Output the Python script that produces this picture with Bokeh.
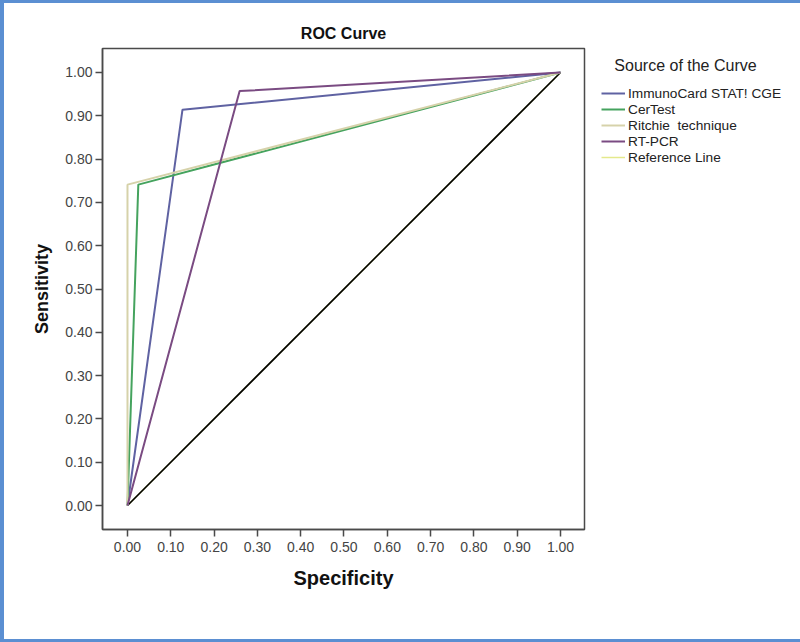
from bokeh.plotting import figure
from bokeh.models import Range1d, Legend, LegendItem, FixedTicker, NumeralTickFormatter
from bokeh.embed import file_html
from bokeh.resources import INLINE

# ---- data ----
tick_values = [0.0, 0.1, 0.2, 0.3, 0.4, 0.5, 0.6, 0.7, 0.8, 0.9, 1.0]

immuno_x = [0.0, 0.127, 1.0]
immuno_y = [0.0, 0.914, 1.0]

certest_x = [0.0, 0.025, 1.0]
certest_y = [0.0, 0.741, 1.0]

ritchie_x = [0.0, 0.0, 1.0]
ritchie_y = [0.0, 0.741, 1.0]

rtpcr_x = [0.0, 0.259, 1.0]
rtpcr_y = [0.0, 0.957, 1.0]

ref_x = [0.0, 1.0]
ref_y = [0.0, 1.0]

legend_title = "Source of the Curve"
series_names = ["ImmunoCard STAT! CGE", "CerTest", "Ritchie  technique", "RT-PCR", "Reference Line"]
series_colors = ["#5f62a2", "#45a35e", "#d6d2aa", "#7a4b82", "#e4e98c"]

FONT = "Liberation Sans"

p = figure(frame_width=482, frame_height=481,
           min_border_left=98, min_border_right=213,
           min_border_top=45, min_border_bottom=110,
           x_range=Range1d(-0.0577, 1.0554), y_range=Range1d(-0.0554, 1.0554),
           output_backend="svg", toolbar_location=None,
           title="ROC Curve")
p.styles = {"border-left": "4px solid #5b8fd2", "border-top": "3px solid #5b8fd2",
            "border-right": "3px solid #5b8fd2", "border-bottom": "3px solid #5b8fd2"}

p.title.align = "center"
p.title.text_font = FONT
p.title.text_font_size = "16px"
p.title.text_font_style = "bold"
p.title.text_color = "#111111"
p.title.standoff = 13

p.xgrid.visible = False
p.ygrid.visible = False
p.outline_line_color = "#4a4a4a"
p.outline_line_width = 1.5
p.background_fill_color = "white"
p.border_fill_color = "white"

for ax in (p.xaxis[0], p.yaxis[0]):
    ax.ticker = FixedTicker(ticks=tick_values)
    ax.formatter = NumeralTickFormatter(format="0.00")
    ax.minor_tick_line_color = None
    ax.major_tick_out = 7
    ax.major_tick_in = 0
    ax.major_tick_line_color = "#4a4a4a"
    ax.major_tick_line_width = 1.5
    ax.axis_line_color = "#4a4a4a"
    ax.axis_line_width = 1.5
    ax.major_label_text_font = FONT
    ax.major_label_text_font_size = "14px"
    ax.major_label_text_color = "#444444"
    ax.axis_label_text_font = FONT
    ax.axis_label_text_font_style = "bold"
    ax.axis_label_text_color = "#111111"

p.xaxis[0].axis_label = "Specificity"
p.xaxis[0].axis_label_text_font_size = "20px"
p.xaxis[0].major_label_standoff = 5
p.xaxis[0].axis_label_standoff = 12
p.yaxis[0].axis_label = "Sensitivity"
p.yaxis[0].axis_label_text_font_size = "18px"
p.yaxis[0].major_label_standoff = 3
p.yaxis[0].axis_label_standoff = 10

# reference line: yellow (legend colour) under the black diagonal shown in the plot
r_ref = p.line(ref_x, ref_y, line_color=series_colors[4], line_width=1.5)
p.line(ref_x, ref_y, line_color="black", line_width=1.6)

r_imm = p.line(immuno_x, immuno_y, line_color=series_colors[0], line_width=2)
r_cer = p.line(certest_x, certest_y, line_color=series_colors[1], line_width=2)
r_rit = p.line(ritchie_x, ritchie_y, line_color=series_colors[2], line_width=2)
r_rt = p.line(rtpcr_x, rtpcr_y, line_color=series_colors[3], line_width=2)

renderers = [r_imm, r_cer, r_rit, r_rt, r_ref]
legend = Legend(items=[LegendItem(label=n, renderers=[r]) for n, r in zip(series_names, renderers)],
                title="\u00a0\u00a0\u00a0" + legend_title,
                title_text_font=FONT, title_text_font_size="16px",
                title_text_font_style="normal", title_text_color="#222222",
                title_standoff=10,
                location=(17, 364), orientation="vertical",
                padding=0, margin=0, spacing=0,
                glyph_width=24, glyph_height=16, label_height=16,
                label_standoff=3,
                label_text_font=FONT, label_text_font_size="13.7px",
                label_text_color="#222222",
                border_line_color=None, background_fill_alpha=0)
p.add_layout(legend, "right")

open("out.html", "w").write(file_html(p, INLINE))
